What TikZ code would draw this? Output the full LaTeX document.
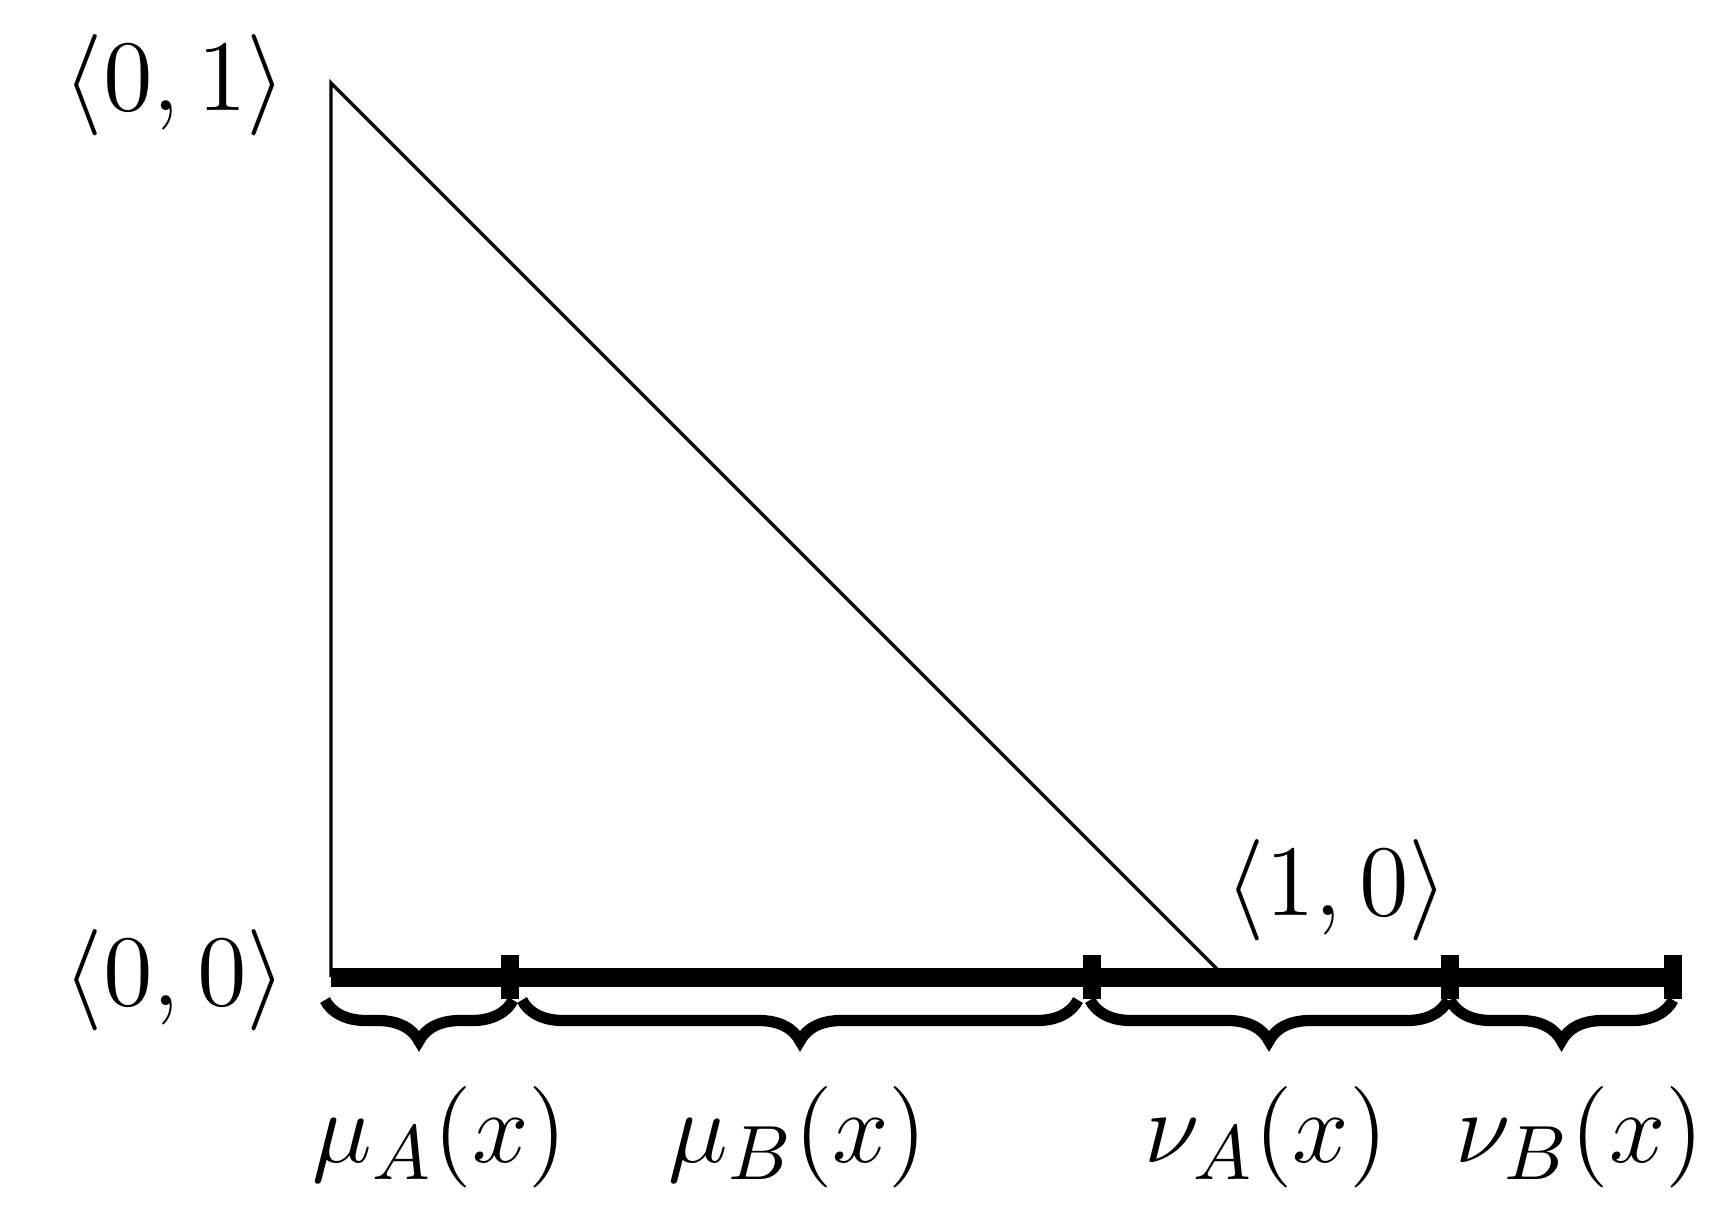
\documentclass[tikz,border=0pt]{standalone}
\usepackage{amsmath}
\usepackage{tikz}
\usetikzlibrary{decorations.pathreplacing}

\begin{document}
\begin{tikzpicture}[scale=0.5,
    every node/.style={font=\fontsize{15.2}{18}\selectfont, inner sep=0pt},
    thinline/.style={line width=0.47pt},
    axisline/.style={line width=2.7pt},
    tickbar/.style={line width=2.6pt},
    curly/.style={decorate, decoration={brace, mirror, amplitude=0.205cm}, line width=1.6pt}]
    \useasboundingbox (0,0) rectangle (17.32,12.22);
    % corners of the triangle
    \coordinate (top) at (3.31,11.39);
    \coordinate (orig) at (3.31,2.45);
    \coordinate (foot) at (12.25,2.45);
    % marks on the axis
    \coordinate (t1) at (5.10,2.45);
    \coordinate (t2) at (10.92,2.45);
    \coordinate (t3) at (14.50,2.45);
    \coordinate (t4) at (16.73,2.45);
    \draw[thinline] (orig)--(top)--(foot);
    \draw[axisline] (orig)--(t4);
    \foreach \p in {t1,t2,t3,t4}
        \draw[tickbar] ([yshift=-0.22cm]\p)--([yshift=0.22cm]\p);
    \node[anchor=base] (p01) at (1.75,11.12) {$\langle 0,1\rangle$};
    \node[anchor=base] (p00) at (1.75,2.17) {$\langle 0,0\rangle$};
    \node[anchor=base] (p10) at (13.37,3.07) {$\langle 1,0\rangle$};
    % braces under the axis
    \draw[curly] (3.25,2.22)--(5.13,2.22);
    \draw[curly] (5.22,2.22)--(10.78,2.22);
    \draw[curly] (10.90,2.22)--(14.48,2.22);
    \draw[curly] (14.50,2.22)--(16.73,2.22);
    \node[anchor=base] (muA) at (4.40,0.60) {$\mu_A(x)$};
    \node[anchor=base] (muB) at (7.98,0.60) {$\mu_B(x)$};
    \node[anchor=base] (nuA) at (12.66,0.60) {$\nu_A(x)$};
    \node[anchor=base] (nuB) at (15.80,0.60) {$\nu_B(x)$};
\end{tikzpicture}
\end{document}
